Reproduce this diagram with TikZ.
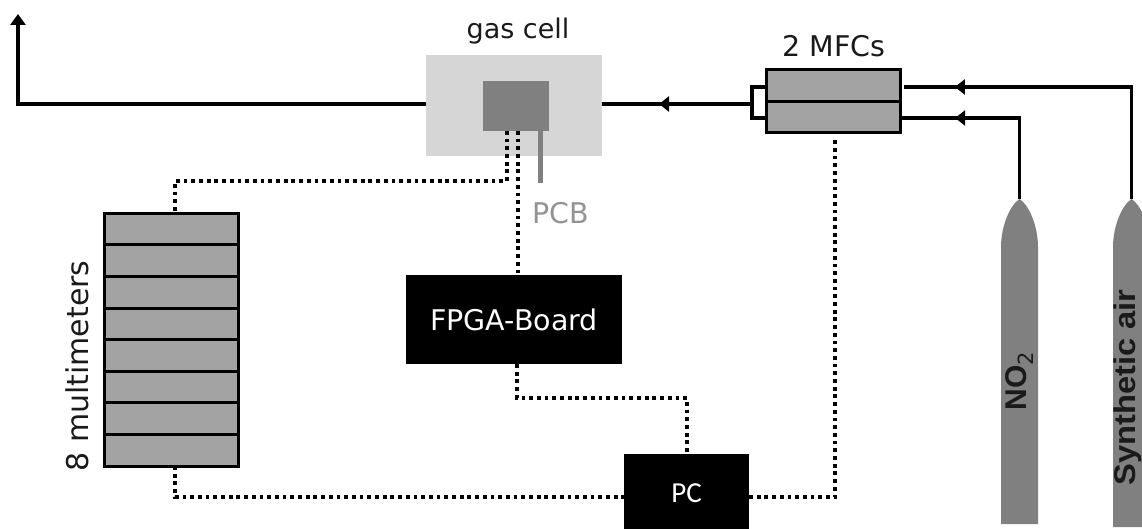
\documentclass[tikz,border=0pt]{standalone}
\usepackage{graphicx}
\usepackage{fontspec}
\setmainfont{DejaVu Sans}
\newfontfamily\arialfont{Liberation Sans}
\newfontfamily\pcfont{Carlito}
\usetikzlibrary{arrows.meta,decorations.markings}
\definecolor{boxgray}{HTML}{A3A3A3}
\definecolor{cellgray}{HTML}{D6D6D6}
\definecolor{pcbgray}{HTML}{808080}
\definecolor{cyl}{HTML}{808080}
\definecolor{txt}{HTML}{1A1A1A}
\tikzset{
 x=1pt,y=-1pt,
 pipe/.style={line width=3.5pt,black},
 wire/.style={line width=4.2pt,black,dash pattern=on 3.8pt off 3.9pt},
 unitbox/.style={draw=black,line width=3pt,fill=boxgray,inner sep=0pt,outer sep=0pt},
 blackbox/.style={fill=black,inner sep=0pt,outer sep=0pt,text=white},
 flat/.style={inner sep=0pt,outer sep=0pt},
 midleft/.style={postaction={decorate},decoration={markings,mark=at position #1 with {\arrow{Triangle[length=10pt,width=15pt]}}}},
 labeltext/.style={font=\fontsize{28.5}{32}\selectfont,text=txt,inner sep=0pt},
 cylbold/.style={font=\arialfont\bfseries\fontsize{30}{34}\selectfont,text=txt,rotate=90,inner sep=0pt}
}
\begin{document}
\begin{tikzpicture}
\useasboundingbox (0,0) rectangle (1142,529);
\clip (0,0) rectangle (1142,529);
% gas cell
\node[flat,fill=cellgray,minimum width=176pt,minimum height=101pt] (cell) at (514,105.5) {};
\node[flat,fill=pcbgray,minimum width=66pt,minimum height=50pt] (chip) at (516,106) {};
\node[flat,minimum width=0pt,minimum height=0pt] (pcbend) at (540.5,183) {};
\draw[line width=5pt,color=pcbgray] (pcbend |- chip.south) -- (pcbend);
\node[labeltext,font=\fontsize{27}{30}\selectfont] (celllabel) at (518,31) {gas cell};
\node[labeltext,text=pcbgray!85!white] (pcb) at (561,213) {PCB};
% MFCs
\node[unitbox,minimum width=134pt,minimum height=31.5pt] (mfca) at (833,85.5) {};
\node[unitbox,minimum width=134pt,minimum height=31.5pt] (mfcb) at (833,117) {};
\node[labeltext] (mfclabel) at (834,46) {2 MFCs};
% multimeters
\foreach \i in {0,...,7}{
 \node[unitbox,minimum width=134pt,minimum height=31.6pt] (m\i) at (171,{229+\i*31.6}) {};
}
\node[labeltext,rotate=90,font=\fontsize{30}{34}\selectfont] (mlabel) at (77,366) {8 multimeters};
% black boxes
\node[blackbox,minimum width=216pt,minimum height=89pt,font=\fontsize{28.5}{32}\selectfont] (fpga) at (514,319.5) {FPGA-Board};
\node[blackbox,minimum width=125pt,minimum height=78pt,font=\pcfont\fontsize{29}{32}\selectfont] (pc) at (686.5,493) {PC};
% cylinders
\fill[cyl] (1001,524) -- (1001,247) .. controls (1001,226) and (1010,205) .. (1019.5,199) .. controls (1029,205) and (1038,226) .. (1038,247) -- (1038,524) -- cycle;
\fill[cyl] (1113,527) -- (1113,247) .. controls (1113,226) and (1122,205) .. (1131.5,199) .. controls (1141,205) and (1150,226) .. (1150,247) -- (1150,527) -- cycle;
\coordinate (no2top) at (1019.5,199);
\coordinate (airtop) at (1131.5,199);
\node[cylbold] (no2) at (1020,381) {NO\textsubscript{\normalfont 2}};
\node[cylbold] (air) at (1127.5,387.5) {\scalebox{1.09}[1]{Synthetic air}};
% pipes
\coordinate (exit) at (18,14);
\coordinate (corner) at (18,104);
\draw[pipe,-{Triangle[length=11pt,width=15pt]}] (cell.west |- corner) -- (corner) -- (exit);
\coordinate (brtop) at (752,87);
\coordinate (brbot) at (752,118);
\draw[pipe] (mfca.west |- brtop) -- (brtop) -- (brbot) -- (mfcb.west |- brbot);
\coordinate (join) at (752,104);
\draw[pipe,midleft=0.62] (join) -- (cell.east |- join);
\coordinate (t1) at (1131.5,87);
\coordinate (t2) at (1019.5,118);
\coordinate (t1end) at (904,87);
\draw[pipe,midleft=0.85] (airtop) -- (t1) -- (t1end);
\draw[pipe,midleft=0.725] (no2top) -- (t2) -- (mfcb.east |- t2);
% signal wires
\coordinate (w1) at (507,181);
\coordinate (w2) at (175,181);
\coordinate (w0) at (518,200);
\draw[wire] (chip.south -| w1) -- (w1) -- (w2) -- (m0.north -| w2);
\draw[wire] (chip.south -| w0) -- (fpga.north -| w0);
\coordinate (w3) at (517,398);
\coordinate (w4) at (687,398);
\draw[wire] (fpga.south -| w3) -- (w3) -- (w4) -- (pc.north -| w4);
\coordinate (w5) at (175,497);
\draw[wire] (m7.south -| w5) -- (w5) -- (pc.west |- w5);
\coordinate (w6) at (835,497);
\draw[wire] (pc.east |- w6) -- (w6) -- ([yshift=-4pt]mfcb.south -| w6);
\end{tikzpicture}
\end{document}
